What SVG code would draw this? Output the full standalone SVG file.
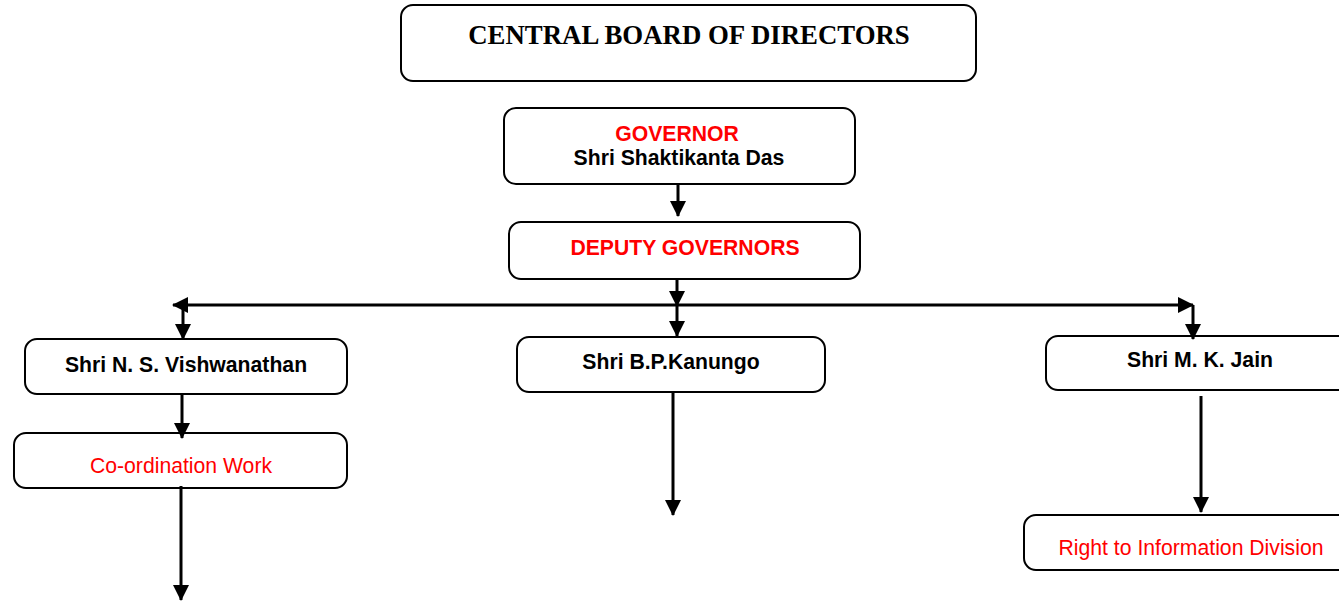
<svg xmlns="http://www.w3.org/2000/svg" width="1339" height="603" viewBox="0 0 1339 603">
<defs>
<style>
.box{fill:#fff;stroke:#000;stroke-width:2}
.t{font-family:"Liberation Sans",Arial,sans-serif;font-size:21.2px;text-anchor:middle}
.b{font-weight:bold}
.red{fill:#ff0000}
.blk{fill:#000}
.title{font-family:"Liberation Serif","Times New Roman",serif;font-size:26.8px;font-weight:bold;text-anchor:middle;fill:#000}
.c{stroke:#000;stroke-width:3;fill:none}
</style>
<marker id="ah" markerUnits="userSpaceOnUse" markerWidth="16" markerHeight="16" refX="15" refY="8" orient="auto-start-reverse" viewBox="0 0 16 16">
<path d="M0,0 L16,8 L0,16 Z" fill="#000"/>
</marker>
</defs>
<rect width="1339" height="603" fill="#fff"/>
<g id="central-board">
<rect class="box" x="401" y="5" width="575" height="76" rx="12"/>
<text class="title" x="689" y="44">CENTRAL BOARD OF DIRECTORS</text>
</g>
<g id="governor">
<rect class="box" x="504" y="108" width="351" height="76" rx="12"/>
<text class="t b red" x="677" y="141">GOVERNOR</text>
<text class="t b blk" x="679" y="165">Shri Shaktikanta Das</text>
</g>
<g id="deputy-governors">
<rect class="box" x="509" y="222" width="351" height="57" rx="12"/>
<text class="t b red" x="685" y="255">DEPUTY GOVERNORS</text>
</g>
<g id="vishwanathan">
<rect class="box" x="25" y="339" width="322" height="55" rx="12"/>
<text class="t b blk" x="186" y="372">Shri N. S. Vishwanathan</text>
</g>
<g id="coordination">
<rect class="box" x="14" y="433" width="333" height="55" rx="12"/>
<text class="t red" x="181" y="473">Co-ordination Work</text>
</g>
<g id="kanungo">
<rect class="box" x="517" y="337" width="308" height="55" rx="12"/>
<text class="t b blk" x="671" y="369">Shri B.P.Kanungo</text>
</g>
<g id="jain">
<rect class="box" x="1046" y="336" width="310" height="54" rx="12"/>
<text class="t b blk" x="1200" y="367">Shri M. K. Jain</text>
</g>
<g id="rti">
<rect class="box" x="1024" y="515" width="332" height="55" rx="12"/>
<text class="t red" x="1191" y="555">Right to Information Division</text>
</g>
<g id="connectors">
<line class="c" x1="678" y1="184" x2="678" y2="216" marker-end="url(#ah)"/>
<line class="c" x1="677" y1="280" x2="677" y2="306" marker-end="url(#ah)"/>
<line class="c" x1="173" y1="305" x2="1193" y2="305" marker-start="url(#ah)" marker-end="url(#ah)"/>
<line class="c" x1="677" y1="305" x2="677" y2="336" marker-end="url(#ah)"/>
<line class="c" x1="183" y1="305" x2="183" y2="339" marker-end="url(#ah)"/>
<line class="c" x1="1193" y1="305" x2="1193" y2="339" marker-end="url(#ah)"/>
<line class="c" x1="182" y1="394" x2="182" y2="438" marker-end="url(#ah)"/>
<line class="c" x1="181" y1="486" x2="181" y2="600" marker-end="url(#ah)"/>
<line class="c" x1="673" y1="392" x2="673" y2="515" marker-end="url(#ah)"/>
<line class="c" x1="1201" y1="396" x2="1201" y2="512" marker-end="url(#ah)"/>
</g>
</svg>
